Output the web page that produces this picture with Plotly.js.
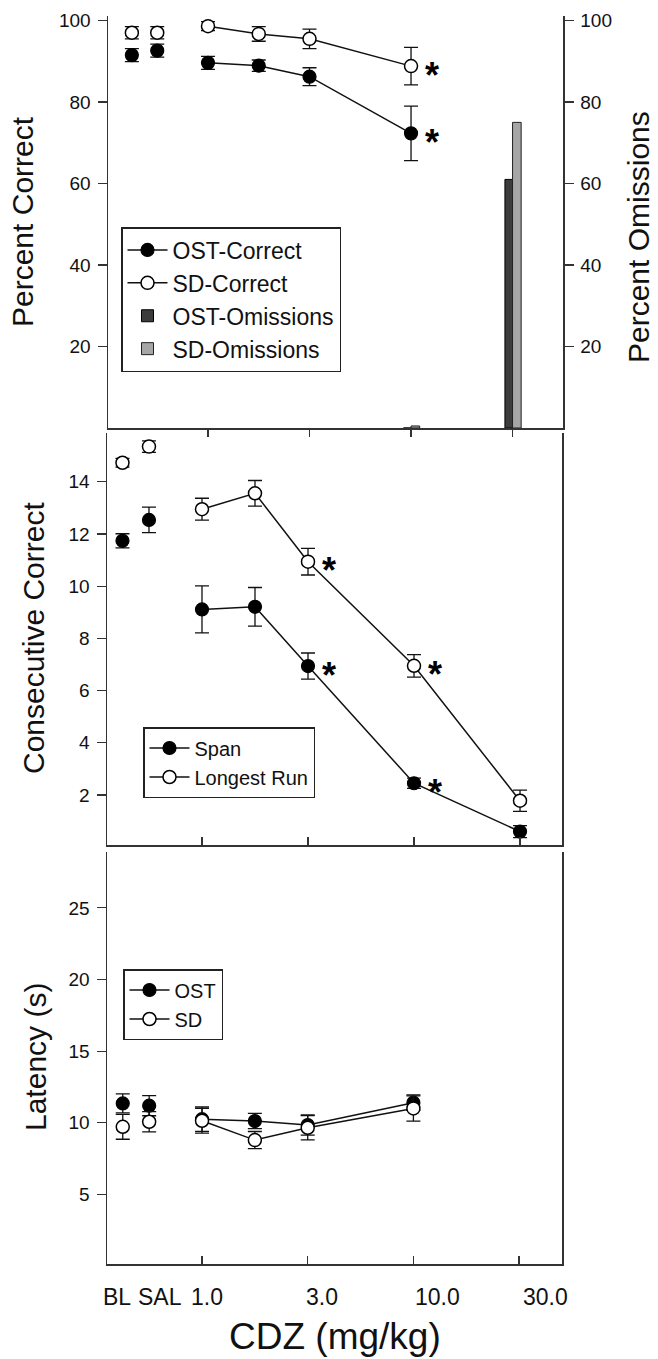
<!DOCTYPE html>
<html>
<head>
<meta charset="utf-8">
<script src="https://cdn.plot.ly/plotly-3.0.1.min.js"></script>
<style>
  html, body { margin: 0; padding: 0; background: #ffffff; }
  #chart { width: 658px; height: 1359px; }
</style>
</head>
<body>
<div id="chart"></div>
<script>
// ---------- DATA ----------
// Axis positions of the conditions (half-decade dose axis: 1, 1.7, 3, 10, 30)
const controlLabels = ['BL', 'SAL'];
const controlPos = [-0.75, -0.5];
const doseLabels = ['1.0', '1.7', '3.0', '10.0', '30.0'];
const dosePos = [0, 0.5, 1, 2, 3];
const tickLabels = ['BL', 'SAL', '1.0', '3.0', '10.0', '30.0'];
const tickLabelPos = [-0.75, -0.5, 0, 1, 2, 3];

// Panel 1: Percent Correct (doses 1.0 - 10.0)
const ostCorrectCtrl = [91.5, 92.6];
const ostCorrectCtrlErr = [1.6, 1.6];
const ostCorrectDose = [89.6, 88.9, 86.2, 72.3];
const ostCorrectDoseErr = [1.6, 1.4, 2.2, 6.7];
const sdCorrectCtrl = [97.0, 97.0];
const sdCorrectCtrlErr = [1.5, 1.5];
const sdCorrectDose = [98.6, 96.7, 95.5, 88.8];
const sdCorrectDoseErr = [1.1, 1.8, 2.4, 4.6];
// Percent Omissions (doses 10.0, 30.0)
const omissionDosePos = [2, 3];
const ostOmissions = [0, 61];
const sdOmissions = [0.5, 75];

// Panel 2: Consecutive Correct
const spanCtrl = [11.74, 12.54];
const spanCtrlErr = [0.27, 0.49];
const spanDose = [9.11, 9.21, 6.94, 2.45, 0.6];
const spanDoseErr = [0.9, 0.74, 0.5, 0.2, 0.23];
const runCtrl = [14.73, 15.35];
const runCtrlErr = [0.17, 0.22];
const runDose = [12.95, 13.56, 10.94, 6.95, 1.78];
const runDoseErr = [0.42, 0.49, 0.51, 0.43, 0.41];

// Panel 3: Latency (s) (doses 1.0 - 10.0)
const ostLatCtrl = [11.35, 11.19];
const ostLatCtrlErr = [0.66, 0.7];
const ostLatDose = [10.25, 10.12, 9.84, 11.4];
const ostLatDoseErr = [0.85, 0.53, 0.7, 0.54];
const sdLatCtrl = [9.72, 10.07];
const sdLatCtrlErr = [0.87, 0.7];
const sdLatDose = [10.14, 8.79, 9.65, 11.0];
const sdLatDoseErr = [0.87, 0.6, 0.85, 0.88];

// Significant dose indices (asterisks)
const sigCorrect = [3];
const sigConsecutive = [2, 3];

// ---------- STYLE HELPERS ----------
const FONT = 'Arial, "Liberation Sans", sans-serif';
const INK = '#111111';
const AX = '#333333';

function errs(arr) {
  return { type: 'data', array: arr, visible: true, color: INK, thickness: 1.3, width: 7 };
}
function filledMarker() { return { symbol: 'circle', size: 13, color: '#000000', line: { color: '#000000', width: 1.2 } }; }
function openMarker() { return { symbol: 'circle', size: 13, color: '#ffffff', line: { color: '#000000', width: 1.5 } }; }

function seriesPair(name, ctrl, ctrlErr, dose, doseErr, marker, xa, ya, legend, showlegend) {
  return [
    { type: 'scatter', mode: 'markers', name: name, x: controlPos, y: ctrl,
      error_y: errs(ctrlErr), marker: marker, xaxis: xa, yaxis: ya,
      showlegend: false, legend: legend, hoverinfo: 'x+y' },
    { type: 'scatter', mode: 'lines+markers', name: name, x: dosePos.slice(0, dose.length), y: dose,
      error_y: errs(doseErr), marker: marker, line: { color: INK, width: 1.5 },
      xaxis: xa, yaxis: ya, showlegend: showlegend, legend: legend, hoverinfo: 'x+y' }
  ];
}

const traces = [];
// Panel 1
traces.push(...seriesPair('OST-Correct', ostCorrectCtrl, ostCorrectCtrlErr, ostCorrectDose, ostCorrectDoseErr, filledMarker(), 'x', 'y', 'legend', true));
traces.push(...seriesPair('SD-Correct', sdCorrectCtrl, sdCorrectCtrlErr, sdCorrectDose, sdCorrectDoseErr, openMarker(), 'x', 'y', 'legend', true));
traces.push({ type: 'bar', name: 'OST-Omissions', x: omissionDosePos, y: ostOmissions,
  width: 0.075, offset: -0.075, xaxis: 'x', yaxis: 'y2', legend: 'legend',
  marker: { color: '#3c3c3c', line: { color: '#000000', width: 1 } } });
traces.push({ type: 'bar', name: 'SD-Omissions', x: omissionDosePos, y: sdOmissions,
  width: 0.085, offset: 0, xaxis: 'x', yaxis: 'y2', legend: 'legend',
  marker: { color: '#a6a6a6', line: { color: '#222222', width: 1 } } });
// Panel 2
traces.push(...seriesPair('Span', spanCtrl, spanCtrlErr, spanDose, spanDoseErr, filledMarker(), 'x2', 'y3', 'legend2', true));
traces.push(...seriesPair('Longest Run', runCtrl, runCtrlErr, runDose, runDoseErr, openMarker(), 'x2', 'y3', 'legend2', true));
// Panel 3
traces.push(...seriesPair('OST', ostLatCtrl, ostLatCtrlErr, ostLatDose, ostLatDoseErr, filledMarker(), 'x3', 'y4', 'legend3', true));
traces.push(...seriesPair('SD', sdLatCtrl, sdLatCtrlErr, sdLatDose, sdLatDoseErr, openMarker(), 'x3', 'y4', 'legend3', true));

// ---------- LAYOUT ----------
const W = 658, H = 1359;
const px = v => v / W;
const py = v => (H - v) / H;

function xAxis(left, right, range, anchor, ticksDir, ticklen) {
  return {
    domain: [px(left), px(right)], range: range, anchor: anchor,
    showline: true, linecolor: AX, linewidth: 1.5, mirror: false,
    ticks: ticksDir, ticklen: ticklen, tickwidth: 1.2, tickcolor: AX,
    tickvals: [0, 1, 2, 3], showticklabels: false,
    showgrid: false, zeroline: false, fixedrange: true
  };
}
function yAxis(top, bottom, range, anchor, tickvals, mirror) {
  return {
    domain: [py(bottom), py(top)], range: range, anchor: anchor,
    showline: true, linecolor: AX, linewidth: 1.5, mirror: mirror,
    ticks: 'outside', ticklen: 9, tickwidth: 1.2, tickcolor: AX,
    tickvals: tickvals, ticklabelstandoff: 3,
    tickfont: { family: FONT, size: 19, color: INK },
    showgrid: false, zeroline: false, fixedrange: true
  };
}
function legendBox(left, top, size) {
  return {
    x: px(left), y: py(top), xanchor: 'left', yanchor: 'top',
    bgcolor: '#ffffff', bordercolor: '#222222', borderwidth: 1.5,
    font: { family: FONT, size: size, color: INK }, tracegroupgap: 0,
    traceorder: 'normal', itemwidth: 40
  };
}

const layout = {
  width: W, height: H,
  margin: { l: 0, r: 0, t: 0, b: 0, pad: 0 },
  paper_bgcolor: '#ffffff', plot_bgcolor: 'rgba(0,0,0,0)',
  font: { family: FONT, color: INK },
  showlegend: true,
  barmode: 'overlay',
  // Panel 1
  xaxis: xAxis(108, 563, [-0.985, 3.497], 'y', 'outside', 7),
  yaxis: yAxis(16, 428, [0, 101.1], 'x', [20, 40, 60, 80, 100], false),
  yaxis2: Object.assign(yAxis(16, 428, [0, 101.1], 'x', [20, 40, 60, 80, 100], false),
    { overlaying: 'y', side: 'right' }),
  // Panel 2
  xaxis2: xAxis(107, 562, [-0.896, 3.396], 'y3', 'inside', 8),
  yaxis3: yAxis(433, 845, [0.084, 15.87], 'x2', [2, 4, 6, 8, 10, 12, 14], true),
  // Panel 3
  xaxis3: xAxis(107, 562, [-0.899, 3.406], 'y4', 'inside', 8),
  yaxis4: yAxis(852, 1264, [0.14, 28.9], 'x3', [5, 10, 15, 20, 25], true),
  legend: legendBox(121, 227, 23),
  legend2: legendBox(143, 727, 20),
  legend3: legendBox(123, 969, 20),
  annotations: []
};

// Axis titles
function title(text, x, y, size, angle, yanchor) {
  return { text: text, xref: 'paper', yref: 'paper', x: px(x), y: py(y),
    xanchor: 'center', yanchor: yanchor || 'middle', showarrow: false, textangle: angle,
    borderpad: 0, font: { family: FONT, size: size, color: INK } };
}
layout.annotations.push(title('Percent Correct', 23, 222, 30, -90));
layout.annotations.push(title('Percent Omissions', 638, 237, 30, -90));
layout.annotations.push(title('Consecutive Correct', 33, 638, 30, -90));
layout.annotations.push(title('Latency (s)', 35, 1057, 30, -90));
layout.annotations.push(title('CDZ (mg/kg)', 335, 1358, 37, 0, 'bottom'));

// Bottom x tick labels (placed through the bottom x scale)
const tickShift = [-6, 11, 5, 14, 24, 26];
tickLabels.forEach((t, i) => {
  layout.annotations.push({ text: t, xref: 'x3', yref: 'paper', x: tickLabelPos[i], y: py(1297),
    xshift: tickShift[i], xanchor: 'center', yanchor: 'middle', showarrow: false,
    font: { family: FONT, size: 23, color: INK } });
});

// Significance asterisks next to points
function star(xref, yref, x, y) {
  return { text: '<b>*</b>', xref: xref, yref: yref, x: x, y: y, xshift: 21, yshift: -9,
    xanchor: 'center', yanchor: 'middle', showarrow: false,
    font: { family: FONT, size: 36, color: '#000000' } };
}
sigCorrect.forEach(i => {
  layout.annotations.push(star('x', 'y', dosePos[i], sdCorrectDose[i]));
  layout.annotations.push(star('x', 'y', dosePos[i], ostCorrectDose[i]));
});
sigConsecutive.forEach(i => {
  layout.annotations.push(star('x2', 'y3', dosePos[i], runDose[i]));
  layout.annotations.push(star('x2', 'y3', dosePos[i], spanDose[i]));
});

Plotly.newPlot('chart', traces, layout, { staticPlot: true, displayModeBar: false });
</script>
</body>
</html>
